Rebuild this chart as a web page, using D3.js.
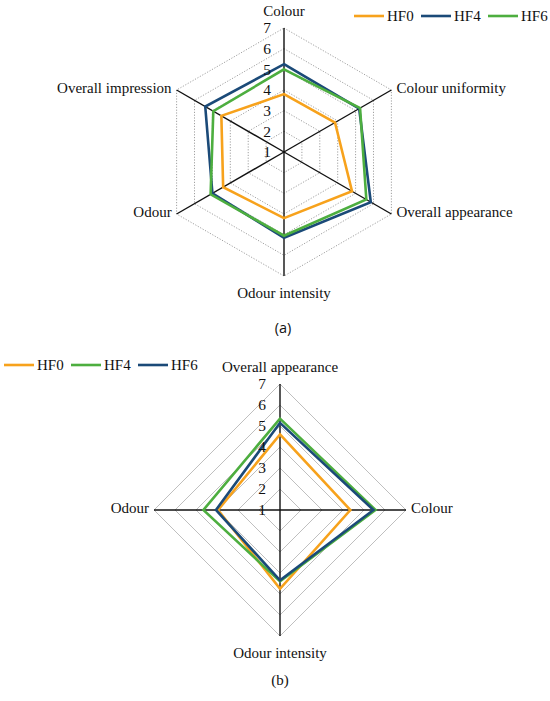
<!DOCTYPE html>
<html>
<head>
<meta charset="utf-8">
<script src="https://cdn.jsdelivr.net/npm/d3@7"></script>
<style>
  html, body { margin: 0; padding: 0; background: #fff; }
  svg text { font-family: "Liberation Serif", "DejaVu Serif", serif; fill: #111; }
</style>
</head>
<body>
<svg id="chart" width="550" height="701"></svg>
<script>
// chart (a)
const axesA = ["Colour", "Colour uniformity", "Overall appearance", "Odour intensity", "Odour", "Overall impression"];
const hf0A = [3.8, 3.85, 4.8, 4.2, 4.4, 4.5];
const hf4A = [5.25, 5.2, 5.85, 5.15, 5.0, 5.4];
const hf6A = [5.0, 5.25, 5.6, 5.05, 5.1, 4.95];
const seriesA = ["HF0", "HF4", "HF6"];

// chart (b)
const axesB = ["Overall appearance", "Colour", "Odour intensity", "Odour"];
const hf0B = [4.6, 4.35, 4.75, 3.95];
const hf4B = [5.35, 5.55, 4.4, 4.65];
const hf6B = [5.15, 5.45, 4.35, 4.05];
const seriesB = ["HF0", "HF4", "HF6"];

const ticks = [1, 2, 3, 4, 5, 6, 7];

const orange = "#f7a21c";
const navy = "#1b4a78";
const green = "#4dae3f";

const svg = d3.select("#chart");

const radar = (opts) => {
  const { cx, cy, R, axes, series, colors, grid, tickDx } = opts;
  const n = axes.length;
  const r = d3.scaleLinear().domain([1, 7]).range([0, R]);
  const angle = (i) => (i * 2 * Math.PI) / n;
  const pt = (i, v) => [r(v) * Math.sin(angle(i)), -r(v) * Math.cos(angle(i))];

  const g = svg.append("g").attr("transform", `translate(${cx},${cy})`);

  // grid rings
  g.selectAll(".ring")
    .data(ticks.slice(1))
    .join("polygon")
    .attr("points", (t) => axes.map((a, i) => pt(i, t).join(",")).join(" "))
    .attr("fill", "none")
    .attr("stroke", grid.color)
    .attr("stroke-width", grid.width)
    .attr("stroke-dasharray", grid.dash);

  // axis spokes
  g.selectAll(".spoke")
    .data(axes)
    .join("line")
    .attr("x1", 0)
    .attr("y1", 0)
    .attr("x2", (d, i) => pt(i, 7)[0])
    .attr("y2", (d, i) => pt(i, 7)[1])
    .attr("stroke", "#111")
    .attr("stroke-width", 1.4);

  // series
  const line = d3.line().curve(d3.curveLinearClosed);
  g.selectAll(".series")
    .data(series)
    .join("path")
    .attr("d", (s) => line(s.values.map((v, i) => pt(i, v))))
    .attr("fill", "none")
    .attr("stroke", (s, k) => colors[k])
    .attr("stroke-width", 2.6)
    .attr("stroke-linejoin", "miter");

  // tick labels on the first spoke
  g.selectAll(".tick")
    .data(ticks)
    .join("text")
    .attr("x", tickDx)
    .attr("y", (t) => -r(t))
    .attr("dy", "0.35em")
    .attr("text-anchor", "end")
    .attr("font-size", 15.5)
    .text((t) => t);

  // category labels
  g.selectAll(".cat")
    .data(axes)
    .join("text")
    .attr("font-size", 15)
    .attr("text-anchor", (d, i) => {
      const s = Math.sin(angle(i));
      return Math.abs(s) < 1e-6 ? "middle" : s > 0 ? "start" : "end";
    })
    .attr("x", (d, i) => {
      const s = Math.sin(angle(i));
      const p = pt(i, 7);
      return Math.abs(s) < 1e-6 ? p[0] : p[0] + (s > 0 ? 5 : -5);
    })
    .attr("y", (d, i) => {
      const c = Math.cos(angle(i));
      const p = pt(i, 7);
      if (c > 0.99) return p[1] - 17;
      if (c < -0.99) return p[1] + 17;
      return p[1] - 2;
    })
    .attr("dy", "0.35em")
    .text((d) => d);
};

const legend = (x, y, names, colors) => {
  const lg = svg.append("g").attr("transform", `translate(${x},${y})`);
  const step = 67;
  names.forEach((name, k) => {
    lg.append("line")
      .attr("x1", k * step)
      .attr("x2", k * step + 30)
      .attr("y1", 0)
      .attr("y2", 0)
      .attr("stroke", colors[k])
      .attr("stroke-width", 2.6);
    lg.append("text")
      .attr("x", k * step + 33)
      .attr("y", 0)
      .attr("dy", "0.35em")
      .attr("font-size", 15)
      .text(name);
  });
};

const colorsA = [orange, navy, green];
radar({
  cx: 284,
  cy: 152,
  R: 124,
  axes: axesA,
  series: [hf0A, hf4A, hf6A].map((values, k) => ({ name: seriesA[k], values })),
  colors: colorsA,
  grid: { color: "#a0a0a0", width: 1, dash: "1.2,1.6" },
  tickDx: -13,
});
legend(354, 16, seriesA, colorsA);

const colorsB = [orange, green, navy];
radar({
  cx: 280,
  cy: 510,
  R: 126,
  axes: axesB,
  series: [hf0B, hf4B, hf6B].map((values, k) => ({ name: seriesB[k], values })),
  colors: colorsB,
  grid: { color: "#b8b8b8", width: 0.9, dash: null },
  tickDx: -14,
});
legend(4, 365, seriesB, colorsB);

// panel captions
svg.append("text")
  .attr("x", 283)
  .attr("y", 328)
  .attr("dy", "0.35em")
  .attr("text-anchor", "middle")
  .attr("font-size", 14.5)
  .style("font-family", "'Open Sans', 'DejaVu Sans', sans-serif")
  .text("(a)");

svg.append("text")
  .attr("x", 280)
  .attr("y", 680)
  .attr("dy", "0.35em")
  .attr("text-anchor", "middle")
  .attr("font-size", 15)
  .text("(b)");
</script>
</body>
</html>
